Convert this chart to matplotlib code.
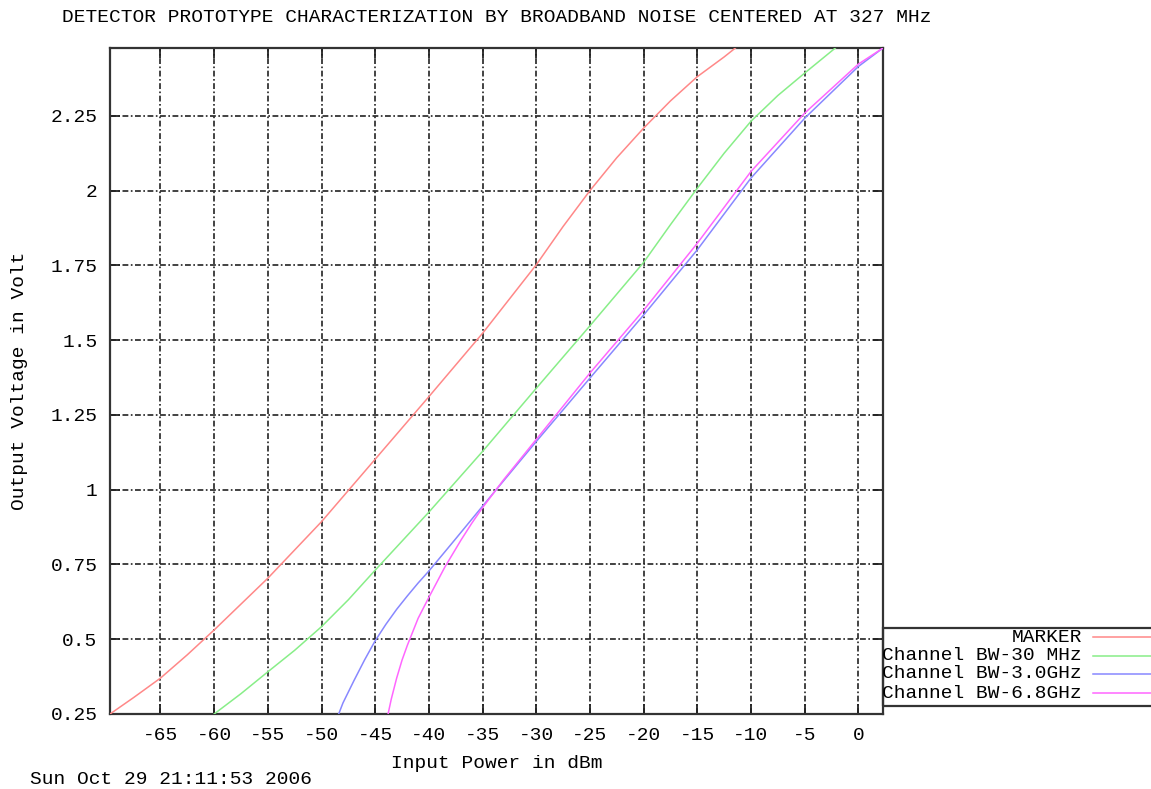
import matplotlib
matplotlib.use("Agg")
import matplotlib.pyplot as plt
from matplotlib.lines import Line2D
from matplotlib.patches import Rectangle

# values (input power in dBm -> output voltage in V)
marker_x = [-69.7, -67.5, -65, -62.5, -60, -55, -50, -45, -40, -35, -30, -27.5, -25, -22.5, -20, -17.5, -15, -12.5, -11.45]
marker_y = [0.25, 0.305, 0.37, 0.448, 0.531, 0.704, 0.893, 1.102, 1.311, 1.523, 1.752, 1.88, 2.0, 2.11, 2.209, 2.30, 2.381, 2.447, 2.477]

bw30m_x = [-60, -57.5, -55, -52.5, -50, -47.5, -45, -40, -35, -30, -25, -20, -17.5, -15, -12.5, -10, -7.5, -5, -2.14]
bw30m_y = [0.25, 0.318, 0.391, 0.463, 0.542, 0.632, 0.731, 0.925, 1.128, 1.339, 1.548, 1.76, 1.886, 2.008, 2.125, 2.232, 2.318, 2.393, 2.477]

bw3g_x = [-48.4, -48, -47, -46, -45, -44, -43, -42, -41, -40, -37.5, -35, -30, -25, -20, -15, -10, -5, 0, 2.3]
bw3g_y = [0.25, 0.287, 0.36, 0.43, 0.495, 0.55, 0.60, 0.645, 0.688, 0.728, 0.836, 0.945, 1.161, 1.373, 1.584, 1.802, 2.042, 2.242, 2.415, 2.477]

bw68g_x = [-43.8, -43.5, -43, -42.5, -42, -41, -40, -39, -38.5, -37, -36, -35, -33, -30, -25, -20, -15, -10, -5, 0, 2.3]
bw68g_y = [0.25, 0.30, 0.37, 0.43, 0.48, 0.57, 0.64, 0.708, 0.742, 0.832, 0.888, 0.94, 1.035, 1.168, 1.39, 1.60, 1.824, 2.064, 2.259, 2.423, 2.477]

labels = ["MARKER", "Channel BW-30 MHz", "Channel BW-3.0GHz", "Channel BW-6.8GHz"]
colors = ["#ff8888", "#88ee88", "#8888ff", "#ff66ff"]
series = [(marker_x, marker_y), (bw30m_x, bw30m_y), (bw3g_x, bw3g_y), (bw68g_x, bw68g_y)]

xticks = [-65, -60, -55, -50, -45, -40, -35, -30, -25, -20, -15, -10, -5, 0]
yticks = [0.25, 0.5, 0.75, 1.0, 1.25, 1.5, 1.75, 2.0, 2.25]
ytick_labels = ["0.25", "0.5", "0.75", "1", "1.25", "1.5", "1.75", "2", "2.25"]

W, H = 1151, 789
mono = "Liberation Mono"
fs = 14

fig = plt.figure(figsize=(W / 100, H / 100), dpi=100)
ax = fig.add_axes([110 / W, 1 - 714 / H, (883 - 110) / W, (714 - 48) / H])

for (xs, ys), c in zip(series, colors):
    ax.plot(xs, ys, color=c, lw=1.1, zorder=3)

ax.set_xlim(-69.7, 2.3)
ax.set_ylim(0.25, 2.477)
ax.set_xticks(xticks)
ax.set_xticklabels([str(t) for t in xticks], family=mono, fontsize=fs)
ax.set_yticks(yticks)
ax.set_yticklabels(ytick_labels, family=mono, fontsize=fs)
ax.tick_params(direction="in", length=7, width=1.3, top=True, right=True, color="#222222")
ax.tick_params(axis="x", pad=9)
ax.tick_params(axis="y", pad=9)
ax.grid(True, color="#222222", lw=1.2, linestyle=(0, (3.5, 1.5, 1, 1.5)))
for s in ax.spines.values():
    s.set_linewidth(1.6)
    s.set_color("#333333")

fig.text(496.5 / W, 1 - 18 / H,
         "DETECTOR PROTOTYPE CHARACTERIZATION BY BROADBAND NOISE CENTERED AT 327 MHz",
         family=mono, fontsize=fs, ha="center", va="center")
fig.text(496.5 / W, 1 - 763 / H, "Input Power in dBm", family=mono, fontsize=fs,
         ha="center", va="center")
fig.text(20 / W, 1 - 381 / H, "Output Voltage in Volt", family=mono, fontsize=fs,
         ha="center", va="center", rotation=90)
fig.text(30 / W, 1 - 779 / H, "Sun Oct 29 21:11:53 2006", family=mono, fontsize=fs,
         ha="left", va="center")

# gnuplot-style key box hanging off the right edge
fig.patches.append(Rectangle((883 / W, 1 - 706 / H), 1.0, (706 - 628) / H,
                             transform=fig.transFigure, fill=False,
                             edgecolor="#333333", lw=1.6))
row_y = [637, 656, 674, 693]
for lab, c, ry in zip(labels, colors, row_y):
    fig.text(1082 / W, 1 - ry / H, lab, family=mono, fontsize=fs, ha="right", va="center")
    fig.lines.append(Line2D([1093 / W, 1.0], [1 - ry / H, 1 - ry / H],
                            transform=fig.transFigure, color=c, lw=1.1))

fig.savefig("out.png", dpi=100)
